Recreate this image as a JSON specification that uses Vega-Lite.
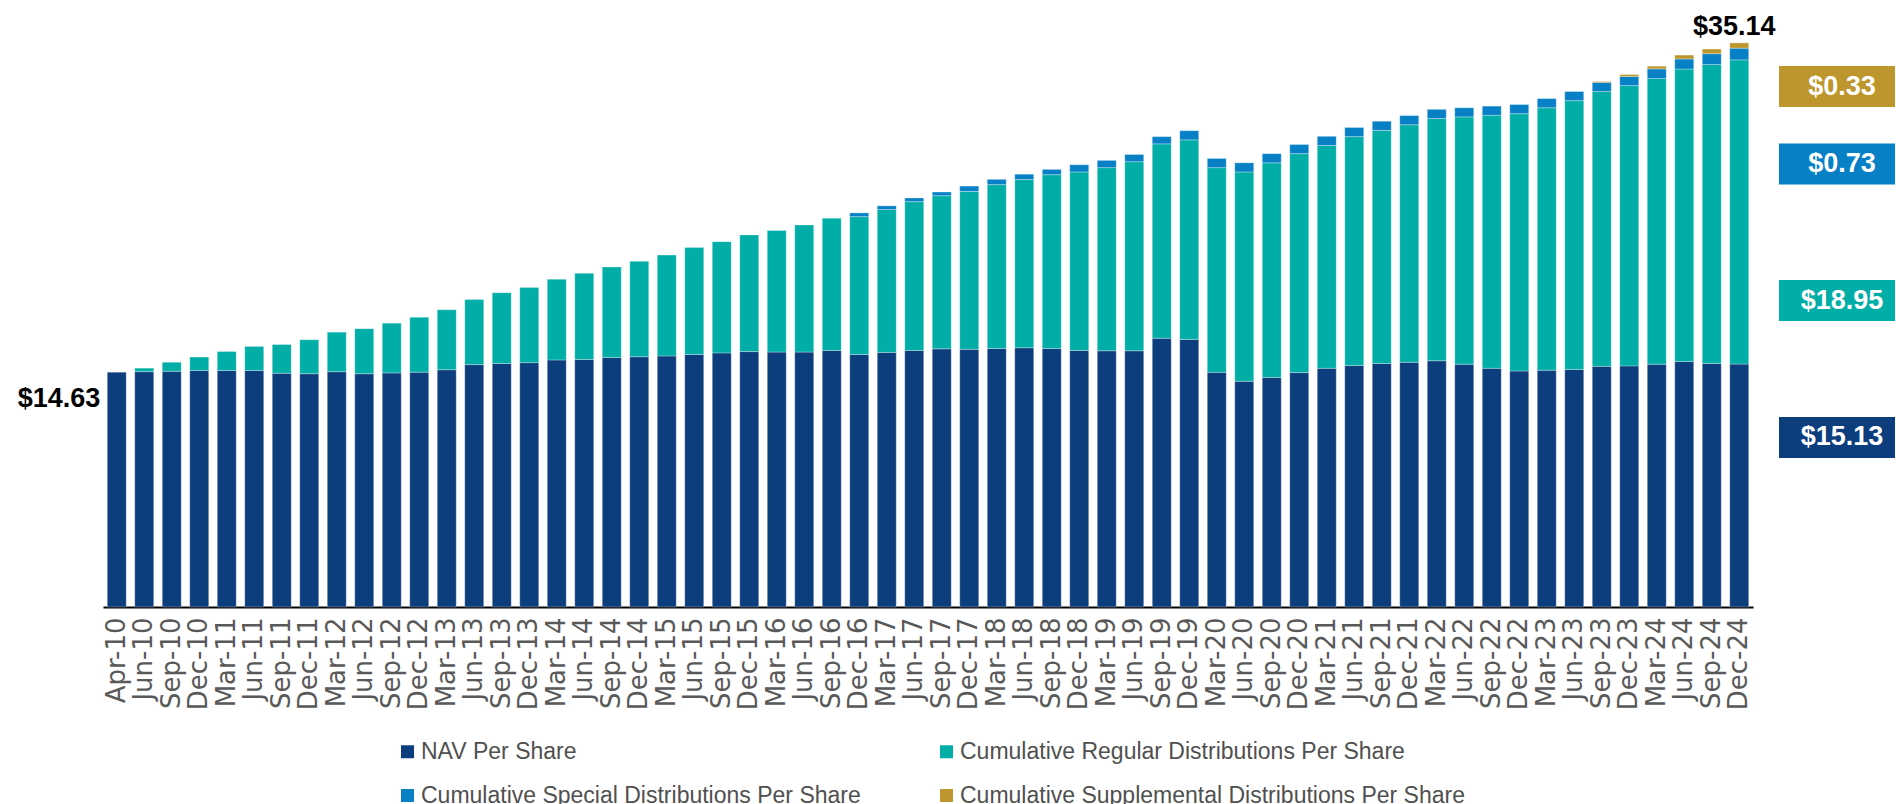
{
  "$schema": "https://vega.github.io/schema/vega-lite/v6.json",
  "background": "white",
  "padding": {"left": 17, "top": 5, "right": 0, "bottom": 0},
  "spacing": 26,
  "bounds": "flush",
  "config": {"view": {"stroke": null}, "font": "Liberation Sans"},
  "datasets": {
    "bars": [
      {"q": "Apr-10", "nav": 14.63, "reg": 0, "spec": 0, "supp": 0},
      {"q": "Jun-10", "nav": 14.66, "reg": 0.22, "spec": 0, "supp": 0},
      {"q": "Sep-10", "nav": 14.68, "reg": 0.57, "spec": 0, "supp": 0},
      {"q": "Dec-10", "nav": 14.73, "reg": 0.84, "spec": 0, "supp": 0},
      {"q": "Mar-11", "nav": 14.73, "reg": 1.18, "spec": 0, "supp": 0},
      {"q": "Jun-11", "nav": 14.73, "reg": 1.5, "spec": 0, "supp": 0},
      {"q": "Sep-11", "nav": 14.56, "reg": 1.79, "spec": 0, "supp": 0},
      {"q": "Dec-11", "nav": 14.53, "reg": 2.12, "spec": 0, "supp": 0},
      {"q": "Mar-12", "nav": 14.66, "reg": 2.46, "spec": 0, "supp": 0},
      {"q": "Jun-12", "nav": 14.53, "reg": 2.81, "spec": 0, "supp": 0},
      {"q": "Sep-12", "nav": 14.58, "reg": 3.1, "spec": 0, "supp": 0},
      {"q": "Dec-12", "nav": 14.63, "reg": 3.42, "spec": 0, "supp": 0},
      {"q": "Mar-13", "nav": 14.78, "reg": 3.74, "spec": 0, "supp": 0},
      {"q": "Jun-13", "nav": 15.1, "reg": 4.06, "spec": 0, "supp": 0},
      {"q": "Sep-13", "nav": 15.17, "reg": 4.41, "spec": 0, "supp": 0},
      {"q": "Dec-13", "nav": 15.22, "reg": 4.68, "spec": 0, "supp": 0},
      {"q": "Mar-14", "nav": 15.39, "reg": 5.03, "spec": 0, "supp": 0},
      {"q": "Jun-14", "nav": 15.42, "reg": 5.37, "spec": 0, "supp": 0},
      {"q": "Sep-14", "nav": 15.54, "reg": 5.64, "spec": 0, "supp": 0},
      {"q": "Dec-14", "nav": 15.59, "reg": 5.95, "spec": 0, "supp": 0},
      {"q": "Mar-15", "nav": 15.64, "reg": 6.28, "spec": 0, "supp": 0},
      {"q": "Jun-15", "nav": 15.73, "reg": 6.66, "spec": 0, "supp": 0},
      {"q": "Sep-15", "nav": 15.83, "reg": 6.93, "spec": 0, "supp": 0},
      {"q": "Dec-15", "nav": 15.91, "reg": 7.27, "spec": 0, "supp": 0},
      {"q": "Mar-16", "nav": 15.88, "reg": 7.57, "spec": 0, "supp": 0},
      {"q": "Jun-16", "nav": 15.88, "reg": 7.92, "spec": 0, "supp": 0},
      {"q": "Sep-16", "nav": 15.98, "reg": 8.24, "spec": 0, "supp": 0},
      {"q": "Dec-16", "nav": 15.73, "reg": 8.59, "spec": 0.23, "supp": 0},
      {"q": "Mar-17", "nav": 15.86, "reg": 8.9, "spec": 0.23, "supp": 0},
      {"q": "Jun-17", "nav": 15.98, "reg": 9.27, "spec": 0.23, "supp": 0},
      {"q": "Sep-17", "nav": 16.08, "reg": 9.54, "spec": 0.23, "supp": 0},
      {"q": "Dec-17", "nav": 16.05, "reg": 9.84, "spec": 0.33, "supp": 0},
      {"q": "Mar-18", "nav": 16.1, "reg": 10.21, "spec": 0.33, "supp": 0},
      {"q": "Jun-18", "nav": 16.15, "reg": 10.48, "spec": 0.33, "supp": 0},
      {"q": "Sep-18", "nav": 16.1, "reg": 10.83, "spec": 0.33, "supp": 0},
      {"q": "Dec-18", "nav": 15.98, "reg": 11.12, "spec": 0.45, "supp": 0},
      {"q": "Mar-19", "nav": 15.96, "reg": 11.41, "spec": 0.45, "supp": 0},
      {"q": "Jun-19", "nav": 15.96, "reg": 11.78, "spec": 0.45, "supp": 0},
      {"q": "Sep-19", "nav": 16.74, "reg": 12.11, "spec": 0.45, "supp": 0},
      {"q": "Dec-19", "nav": 16.67, "reg": 12.43, "spec": 0.57, "supp": 0},
      {"q": "Mar-20", "nav": 14.62, "reg": 12.75, "spec": 0.57, "supp": 0},
      {"q": "Jun-20", "nav": 14.06, "reg": 13.04, "spec": 0.57, "supp": 0},
      {"q": "Sep-20", "nav": 14.3, "reg": 13.37, "spec": 0.57, "supp": 0},
      {"q": "Dec-20", "nav": 14.6, "reg": 13.64, "spec": 0.57, "supp": 0},
      {"q": "Mar-21", "nav": 14.87, "reg": 13.88, "spec": 0.57, "supp": 0},
      {"q": "Jun-21", "nav": 15.04, "reg": 14.26, "spec": 0.57, "supp": 0},
      {"q": "Sep-21", "nav": 15.17, "reg": 14.52, "spec": 0.57, "supp": 0},
      {"q": "Dec-21", "nav": 15.24, "reg": 14.8, "spec": 0.57, "supp": 0},
      {"q": "Mar-22", "nav": 15.34, "reg": 15.09, "spec": 0.57, "supp": 0},
      {"q": "Jun-22", "nav": 15.12, "reg": 15.41, "spec": 0.57, "supp": 0},
      {"q": "Sep-22", "nav": 14.87, "reg": 15.76, "spec": 0.57, "supp": 0},
      {"q": "Dec-22", "nav": 14.7, "reg": 16.03, "spec": 0.57, "supp": 0},
      {"q": "Mar-23", "nav": 14.75, "reg": 16.35, "spec": 0.57, "supp": 0},
      {"q": "Jun-23", "nav": 14.8, "reg": 16.74, "spec": 0.57, "supp": 0},
      {"q": "Sep-23", "nav": 14.99, "reg": 17.12, "spec": 0.57, "supp": 0.05},
      {"q": "Dec-23", "nav": 15.02, "reg": 17.46, "spec": 0.57, "supp": 0.12},
      {"q": "Mar-24", "nav": 15.12, "reg": 17.8, "spec": 0.6, "supp": 0.17},
      {"q": "Jun-24", "nav": 15.29, "reg": 18.22, "spec": 0.63, "supp": 0.24},
      {"q": "Sep-24", "nav": 15.17, "reg": 18.62, "spec": 0.68, "supp": 0.29},
      {"q": "Dec-24", "nav": 15.13, "reg": 18.95, "spec": 0.73, "supp": 0.33}
    ],
    "series": [
      {"key": "nav", "label": "NAV Per Share", "rank": 1, "anchor": 10.56},
      {"key": "reg", "label": "Cumulative Regular Distributions Per Share", "rank": 2, "anchor": 19.09},
      {"key": "spec", "label": "Cumulative Special Distributions Per Share", "rank": 3, "anchor": 27.6},
      {"key": "supp", "label": "Cumulative Supplemental Distributions Per Share", "rank": 4, "anchor": 32.42}
    ]
  },
  "resolve": {"scale": {"color": "independent", "y": "independent"}, "legend": {"color": "independent"}},
  "hconcat": [
    {
      "width": 1650,
      "height": 602,
      "data": {"name": "bars"},
      "layer": [
        {
          "transform": [
            {"fold": ["nav", "reg", "spec", "supp"], "as": ["key", "v"]},
            {"filter": "datum.v > 0"},
            {"lookup": "key", "from": {"data": {"name": "series"}, "key": "key", "fields": ["label", "rank"]}}
          ],
          "mark": {"type": "bar", "stroke": "white", "strokeWidth": 0.6, "strokeOpacity": 0.5},
          "encoding": {
            "x": {
              "field": "q", "type": "ordinal", "sort": null,
              "scale": {"paddingInner": 0.31, "paddingOuter": 0.155},
              "axis": {
                "title": null, "labelAngle": -90, "labelFont": "DejaVu Sans", "labelFontSize": 26,
                "labelColor": "#595959", "labelPadding": 10, "ticks": false, "domainColor": "#000000",
                "domainWidth": 2, "labelOverlap": false, "labelBound": false
              }
            },
            "y": {"field": "v", "type": "quantitative", "stack": "zero", "scale": {"domain": [0, 37.5], "nice": false}, "axis": null},
            "color": {
              "field": "label", "type": "nominal",
              "scale": {
                "domain": ["NAV Per Share", "Cumulative Regular Distributions Per Share", "Cumulative Special Distributions Per Share", "Cumulative Supplemental Distributions Per Share"],
                "range": ["#0c3d7c", "#00aea7", "#0780c6", "#bd962d"]
              },
              "legend": {
                "title": null, "orient": "none", "legendX": 293, "legendY": 735, "columns": 2, "direction": "horizontal",
                "symbolType": "square", "symbolSize": 169, "symbolStrokeWidth": 0,
                "labelFont": "Liberation Sans", "labelFontSize": 23, "labelColor": "#505050",
                "labelLimit": 700, "labelOffset": 2, "columnPadding": 74, "rowPadding": 20, "padding": 0
              }
            },
            "order": {"field": "rank", "type": "quantitative"}
          }
        },
        {
          "transform": [{"filter": "datum.q === 'Apr-10'"}],
          "mark": {"type": "text", "align": "right", "baseline": "middle", "dx": -7, "dy": 27, "fontSize": 27, "fontWeight": "bold", "color": "#000000"},
          "encoding": {
            "x": {"field": "q", "type": "ordinal", "sort": null, "bandPosition": 0},
            "y": {"field": "nav", "type": "quantitative"},
            "text": {"field": "nav", "type": "quantitative", "format": "$.2f"}
          }
        },
        {
          "transform": [
            {"filter": "datum.q === 'Dec-24'"},
            {"fold": ["nav", "reg", "spec", "supp"], "as": ["key", "v"]},
            {"aggregate": [{"op": "sum", "field": "v", "as": "total"}], "groupby": ["q"]}
          ],
          "mark": {"type": "text", "align": "center", "baseline": "alphabetic", "dx": -5, "dy": -8, "fontSize": 27, "fontWeight": "bold", "color": "#000000"},
          "encoding": {
            "x": {"field": "q", "type": "ordinal", "sort": null},
            "y": {"field": "total", "type": "quantitative"},
            "text": {"field": "total", "type": "quantitative", "format": "$.2f"}
          }
        }
      ]
    },
    {
      "width": 116,
      "height": 602,
      "data": {"name": "bars"},
      "transform": [
        {"filter": "datum.q === 'Dec-24'"},
        {"fold": ["nav", "reg", "spec", "supp"], "as": ["key", "v"]},
        {"lookup": "key", "from": {"data": {"name": "series"}, "key": "key", "fields": ["label", "anchor"]}}
      ],
      "encoding": {
        "y": {"field": "anchor", "type": "quantitative", "scale": {"domain": [0, 37.5], "nice": false}, "axis": null}
      },
      "layer": [
        {
          "mark": {"type": "point", "shape": "M-1,-0.3534H1V0.3534H-1Z", "size": 13456, "filled": true, "opacity": 1, "strokeWidth": 0},
          "encoding": {
            "color": {
              "field": "label", "type": "nominal",
              "scale": {
                "domain": ["NAV Per Share", "Cumulative Regular Distributions Per Share", "Cumulative Special Distributions Per Share", "Cumulative Supplemental Distributions Per Share"],
                "range": ["#0c3d7c", "#00aea7", "#0780c6", "#bd962d"]
              },
              "legend": null
            }
          }
        },
        {
          "mark": {"type": "text", "color": "white", "fontSize": 27, "fontWeight": "bold", "dx": 5, "baseline": "middle"},
          "encoding": {"text": {"field": "v", "type": "quantitative", "format": "$.2f"}}
        }
      ]
    }
  ]
}
